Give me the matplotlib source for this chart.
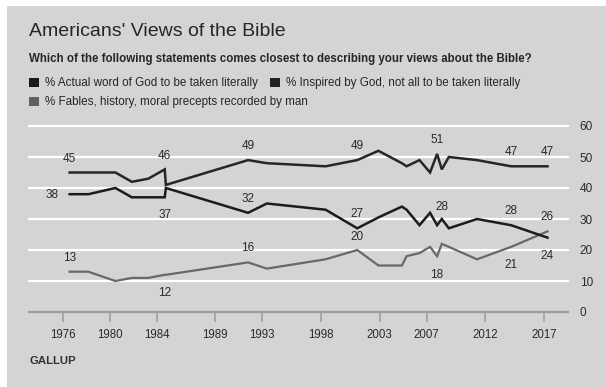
import matplotlib
matplotlib.use("Agg")
import matplotlib.pyplot as plt
from matplotlib.patches import Rectangle

# ---- data ----
poll_dates = [1976.6, 1978.2, 1980.5, 1981.9, 1983.3, 1984.7, 1984.8, 1991.8, 1993.4,
              1998.4, 2001.1, 2002.9, 2004.9, 2005.3, 2006.4, 2007.3, 2007.9, 2008.3,
              2008.9, 2011.3, 2014.2, 2017.3]
literal = [38, 38, 40, 37, 37, 37, 40, 32, 35, 33, 27, 30.5, 34, 33, 28, 32, 28, 30, 27, 30, 28, 24]
inspired = [45, 45, 45, 42, 43, 46, 41, 49, 48, 47, 49, 52, 48, 47, 49, 45, 51, 46, 50, 49, 47, 47]
fables = [13, 13, 10, 11, 11, 12, 12, 16, 14, 17, 20, 15, 15, 18, 19, 21, 18, 22, 21, 17, 21, 26]

series_names = ["% Actual word of God to be taken literally",
                "% Inspired by God, not all to be taken literally",
                "% Fables, history, moral precepts recorded by man"]

x_ticks = [1976, 1980, 1984, 1989, 1993, 1998, 2003, 2007, 2012, 2017]
y_ticks = [0, 10, 20, 30, 40, 50, 60]

# labelled points: (series index, point index, dx px, dy px)
labelled = [
    (1, 0, 0, 13), (0, 0, -18, -1), (2, 0, 0, 14),
    (1, 5, 0, 13), (0, 5, 0, -18), (2, 5, 0, -18),
    (1, 7, 0, 14), (0, 7, 0, 13.5), (2, 7, 0, 14),
    (1, 10, 0, 14), (0, 10, 0, 14), (2, 10, 0, 13.5),
    (1, 16, 0, 14), (0, 16, 5, 18), (2, 16, 0, -19),
    (1, 20, 0, 14), (0, 20, 0, 14.5), (2, 20, 0, -18),
    (1, 21, 0, 14), (0, 21, 0, -18), (2, 21, 0, 14),
]

# ---- style ----
BG = "#d4d4d4"
COLORS = ["#1c1c1c", "#262626", "#686868"]
LEGEND_COLORS = ["#1a1a1a", "#222222", "#606060"]
TXT = "#2a2a2a"
plt.rcParams['font.family'] = ['Liberation Sans', 'DejaVu Sans']

W, H = 606, 387
fig = plt.figure(figsize=(W / 100, H / 100), dpi=100)
fig.patch.set_facecolor("white")
fig.add_artist(Rectangle((7 / W, 0), 1, 1 - 6 / H, transform=fig.transFigure,
                         facecolor=BG, edgecolor="none", zorder=-10))

def fx(px):
    return px / W

def fy(py):
    return 1 - py / H

ax = fig.add_axes([fx(29), fy(312), fx(568) - fx(29), fy(126) - fy(312)])
ax.set_facecolor("none")
ax.set_xlim(1973.14, 2019.05)
ax.set_ylim(0, 60)
for s in ["top", "left", "right"]:
    ax.spines[s].set_visible(False)
ax.spines["bottom"].set_color("#9c9c9c")
ax.spines["bottom"].set_linewidth(1.6)

for v in y_ticks[1:]:
    ax.axhline(v, color="white", lw=1.6, zorder=1, clip_on=False)

ax.set_xticks(x_ticks)
ax.set_xticklabels([str(t) for t in x_ticks])
ax.tick_params(axis="x", length=7.5, width=1.1, color="#9c9c9c", pad=5,
               labelsize=8.3, labelcolor=TXT)
ax.yaxis.tick_right()
ax.set_yticks(y_ticks)
ax.tick_params(axis="y", length=0, pad=8.5, labelsize=8.5, labelcolor=TXT)

data = [literal, inspired, fables]
lws = [1.8, 1.8, 1.6]
zs = [3, 3, 2.5]
for i, vals in enumerate(data):
    ax.plot(poll_dates, vals, color=COLORS[i], lw=lws[i], zorder=zs[i],
            solid_joinstyle="miter")

for si, pi, dx, dy in labelled:
    v = data[si][pi]
    ax.annotate(f"{v:.0f}", (poll_dates[pi], v), xytext=(dx, dy), textcoords="offset pixels",
                ha="center", va="center", fontsize=8.5, color=TXT, zorder=5,
                annotation_clip=False)

# ---- titles, legend, source ----
fig.text(fx(29), fy(36), "Americans' Views of the Bible", fontsize=14, color="#262626",
         ha="left", va="baseline")
fig.text(fx(29), fy(62.3), "Which of the following statements comes closest to describing your views about the Bible?",
         fontsize=8.3, fontweight="bold", color="#262626", ha="left", va="baseline")

leg_pos = [(29, 86), (270, 86), (29, 105)]
for i, (lx, ly) in enumerate(leg_pos):
    fig.add_artist(Rectangle((fx(lx), fy(ly + 1)), 10 / W, 9 / H, transform=fig.transFigure,
                             facecolor=LEGEND_COLORS[i], edgecolor="none"))
    fig.text(fx(lx + 16), fy(ly), series_names[i], fontsize=8.4, color="#262626",
             ha="left", va="baseline")

fig.text(fx(29), fy(364), "GALLUP", fontsize=8.2, fontweight="bold", color="#333333",
         ha="left", va="baseline")

fig.savefig("out.png", dpi=100, facecolor=fig.get_facecolor())
